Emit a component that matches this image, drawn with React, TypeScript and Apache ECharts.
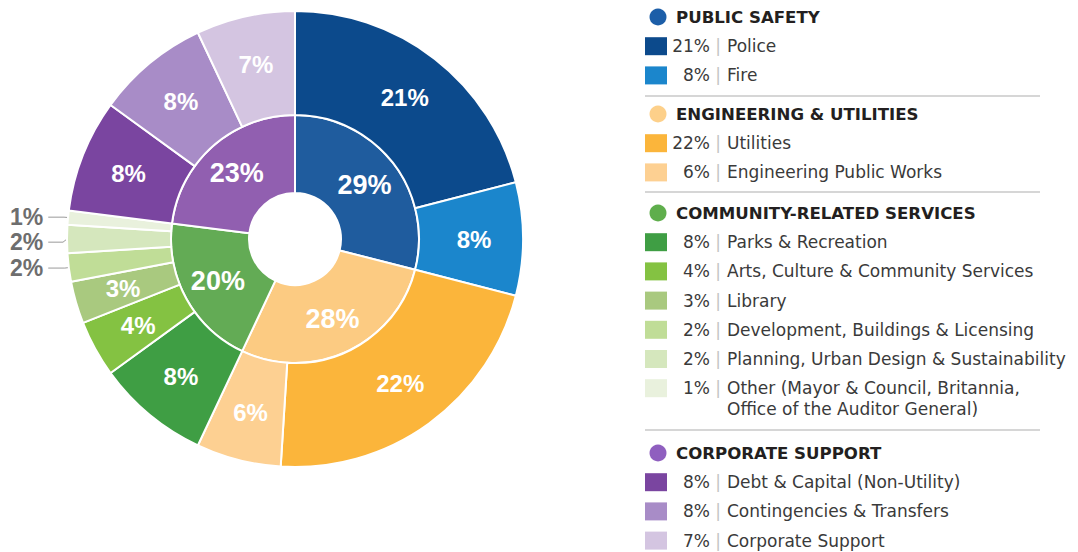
import React, { useEffect, useRef } from "react";
import * as echarts from "echarts";

// ---- data ----
const groupNames = ["PUBLIC SAFETY", "ENGINEERING & UTILITIES", "COMMUNITY-RELATED SERVICES", "CORPORATE SUPPORT"];
const groupValues = [29, 28, 20, 23];
const groupColors = ["#1f5c9e", "#fccb82", "#63ab55", "#915fb0"];
const groupDotColors = ["#1c5ea8", "#fdd08a", "#5fae4c", "#8f5fbf"];

const itemNames = [
  "Police",
  "Fire",
  "Utilities",
  "Engineering Public Works",
  "Parks & Recreation",
  "Arts, Culture & Community Services",
  "Library",
  "Development, Buildings & Licensing",
  "Planning, Urban Design & Sustainability",
  "Other (Mayor & Council, Britannia,\nOffice of the Auditor General)",
  "Debt & Capital (Non-Utility)",
  "Contingencies & Transfers",
  "Corporate Support",
];
const itemValues = [21, 8, 22, 6, 8, 4, 3, 2, 2, 1, 8, 8, 7];
const itemGroups = [0, 0, 1, 1, 2, 2, 2, 2, 2, 2, 3, 3, 3];
const itemColors = [
  "#0c4a8c", "#1b86cc", "#fbb53b", "#fdd092", "#3f9e44", "#84c242", "#a9c97f",
  "#c0dd97", "#d5e7bd", "#e9f1dd", "#7a45a0", "#a88cc7", "#d4c5e1",
];

// ---- layout ----
const CX = 295;
const CY = 239;
const headerY = [17, 114, 213, 453];
const sepY = [96, 192, 430];
const ROW = 29.2;
const LINE_H = 21;
const FONT = "'DejaVu Sans', 'Open Sans', sans-serif";
const PIE_FONT = "'Liberation Sans', Arial, sans-serif";
const ROW_FONT = 17;
const HEAD_FONT = 16.6;

function buildLegend() {
  const els: any[] = [];
  groupNames.forEach((g, gi) => {
    const hy = headerY[gi];
    els.push({
      type: "circle",
      shape: { cx: 658, cy: hy, r: 8.5 },
      style: { fill: groupDotColors[gi] },
    });
    els.push({
      type: "text",
      x: 676,
      y: hy,
      style: {
        text: g,
        fill: "#231f20",
        fontFamily: FONT,
        fontWeight: "bold",
        fontSize: HEAD_FONT,
        textAlign: "left",
        textVerticalAlign: "middle",
      },
    });
    let k = 0;
    itemNames.forEach((name, i) => {
      if (itemGroups[i] !== gi) return;
      k += 1;
      const ry = hy + ROW * k;
      els.push({
        type: "rect",
        shape: { x: 645, y: ry - 9, width: 22, height: 18 },
        style: { fill: itemColors[i] },
      });
      els.push({
        type: "text",
        x: 710,
        y: ry,
        style: {
          text: itemValues[i] + "%",
          fill: "#3a3a3a",
          fontFamily: FONT,
          fontSize: ROW_FONT,
          textAlign: "right",
          textVerticalAlign: "middle",
        },
      });
      els.push({
        type: "text",
        x: 718,
        y: ry,
        style: {
          text: "|",
          fill: "#c4c4c4",
          fontFamily: FONT,
          fontSize: ROW_FONT,
          textAlign: "center",
          textVerticalAlign: "middle",
        },
      });
      els.push({
        type: "text",
        x: 727,
        y: ry - LINE_H / 2,
        style: {
          text: name,
          fill: "#3a3a3a",
          fontFamily: FONT,
          fontSize: ROW_FONT,
          lineHeight: LINE_H,
          textAlign: "left",
          textVerticalAlign: "top",
        },
      });
    });
  });
  sepY.forEach((y) => {
    els.push({
      type: "line",
      shape: { x1: 645, y1: y, x2: 1040, y2: y },
      style: { stroke: "#c8c8c8", lineWidth: 1.5 },
    });
  });
  return els;
}

export default function App() {
  const ref = useRef<HTMLDivElement>(null);
  useEffect(() => {
    if (!ref.current) return;
    const chart = echarts.init(ref.current, undefined, { renderer: "svg" });
    const innerData = groupNames.map((n, i) => ({
      name: n,
      value: groupValues[i],
      itemStyle: { color: groupColors[i] },
    }));
    const outerData = itemNames.map((n, i) => {
      const outside = itemValues[i] <= 2;
      return {
        name: n,
        value: itemValues[i],
        itemStyle: { color: itemColors[i] },
        label: outside
          ? {
              position: "outside",
              alignTo: "edge",
              edgeDistance: 10,
              color: "#6e6e6e",
              fontSize: 23,
              fontWeight: "bold",
              fontFamily: PIE_FONT,
            }
          : {
              position: "inside",
              color: "#ffffff",
              fontSize: 24,
              fontWeight: "bold",
              fontFamily: PIE_FONT,
            },
        labelLine: outside
          ? { show: true, length: 4, length2: 10, lineStyle: { color: "#9a9a9a", width: 1 } }
          : { show: false },
      };
    });
    chart.setOption({
      animation: false,
      backgroundColor: "#ffffff",
      series: [
        {
          type: "pie",
          center: [CX, CY],
          radius: [46, 124],
          startAngle: 90,
          clockwise: true,
          avoidLabelOverlap: false,
          itemStyle: { borderColor: "#ffffff", borderWidth: 2 },
          label: {
            show: true,
            position: "inside",
            formatter: "{c}%",
            color: "#ffffff",
            fontSize: 27,
            fontWeight: "bold",
            fontFamily: PIE_FONT,
          },
          labelLine: { show: false },
          emphasis: { disabled: true },
          data: innerData,
        },
        {
          type: "pie",
          center: [CX, CY],
          radius: [124, 228],
          startAngle: 90,
          clockwise: true,
          itemStyle: { borderColor: "#ffffff", borderWidth: 2 },
          label: { show: true, formatter: "{c}%" },
          emphasis: { disabled: true },
          data: outerData,
        },
      ],
      graphic: buildLegend(),
    });
    return () => chart.dispose();
  }, []);
  return (
    <div
      ref={ref}
      style={{ position: "fixed", left: 0, top: 0, width: 1078, height: 552, background: "#fff" }}
    />
  );
}
